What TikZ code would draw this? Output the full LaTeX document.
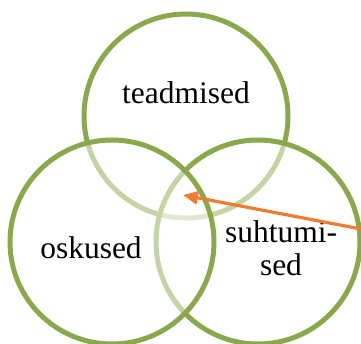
\documentclass[tikz,border=0pt]{standalone}
\usepackage{fontspec}
\setmainfont{Liberation Serif}
\usetikzlibrary{arrows.meta}
\definecolor{venngreen}{RGB}{138,169,76}
\definecolor{pointerorange}{RGB}{237,125,49}
\begin{document}
\begin{tikzpicture}[x=1pt,y=-1pt,
  setcircle/.style={circle, draw=venngreen, line width=5pt, fill=white,
    fill opacity=0.5, minimum size=204pt, inner sep=0pt},
  setlabel/.style={font=\fontsize{31.5}{33}\selectfont, align=center, inner sep=0pt},
  pointer/.style={pointerorange, line width=3.2pt,
    -{Triangle[length=15pt,width=13pt]}}]
\useasboundingbox (0,0) rectangle (361,343);
% three overlapping sets; later circles veil the outlines beneath them
\node[setcircle] (top)   at (186,116) {};
\node[setcircle] (right) at (258,242) {};
\node[setcircle] (left)  at (112,242) {};
% set labels (a two-line label sits on its last baseline)
\node[setlabel, anchor=base] (tlabel) at (186,103) {teadmised};
\node[setlabel, anchor=base] (llabel) at (91,258) {oskused};
\node[setlabel, anchor=base] (rlabel) at (281,275) {suhtumi-\\sed};
% pointer into the common intersection
\coordinate (tail) at (361,229);
\coordinate (core) at (183,195);
\draw[pointer] (tail) -- (core);
\end{tikzpicture}
\end{document}
